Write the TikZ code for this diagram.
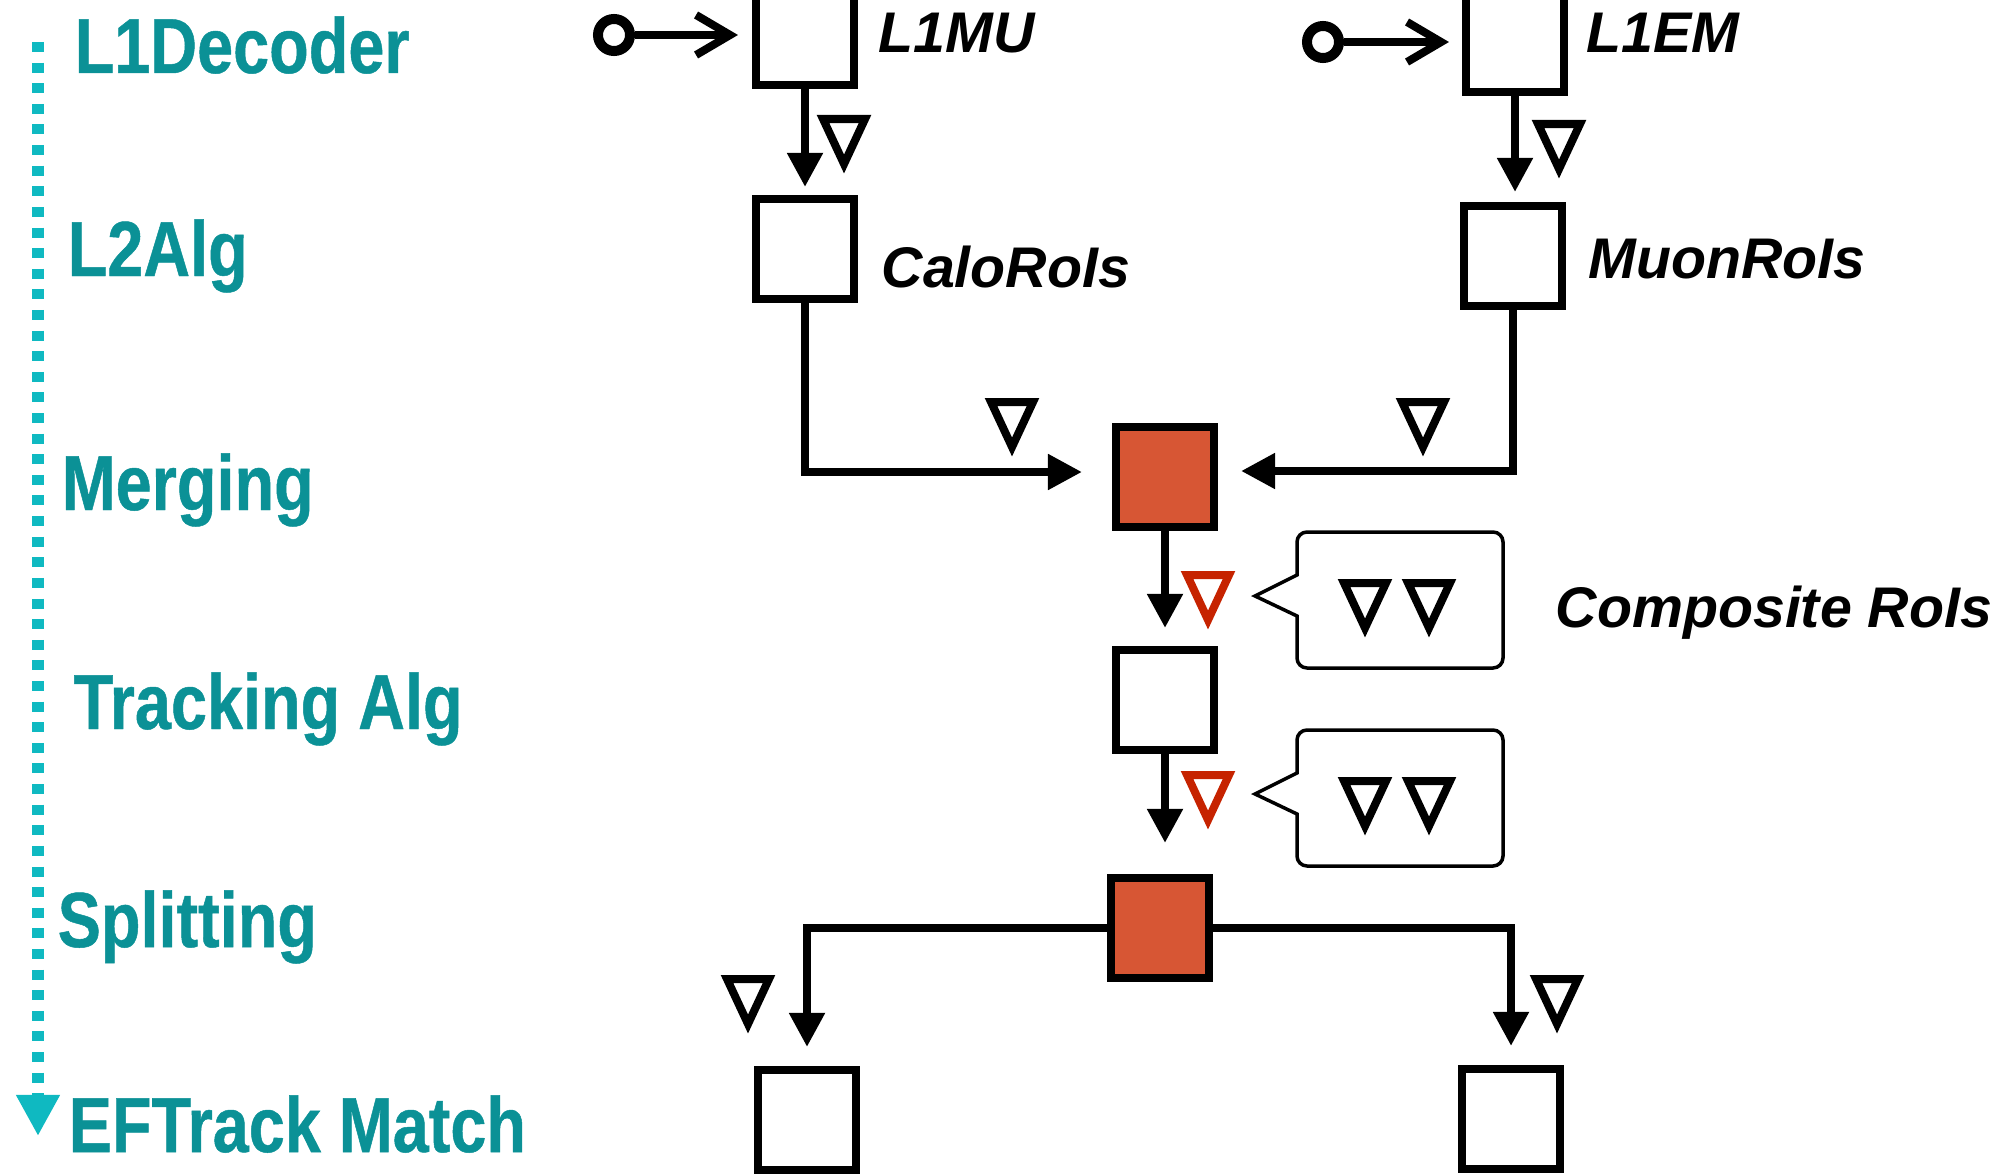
\documentclass[tikz,border=0pt]{standalone}
\usepackage{fontspec}
\setmainfont{Liberation Sans}
\newfontfamily\stagefont[FakeStretch=0.83, FakeBold=0.6]{Liberation Sans}
\usepackage{tikz}
\usetikzlibrary{arrows.meta}
\definecolor{stageteal}{HTML}{0B9196}
\definecolor{axiscyan}{HTML}{0FB9C1}
\definecolor{hotfill}{HTML}{D75634}
\definecolor{roired}{HTML}{C62300}

\begin{document}
\begin{tikzpicture}[x=0.01cm, y=-0.01cm,
  alg/.style={draw, line width=0.08cm, minimum width=0.98cm, minimum height=1.0cm, inner sep=0pt, fill=white},
  hot/.style={alg, fill=hotfill},
  port/.style={circle, draw, line width=0.1cm, minimum size=0.32cm, inner sep=0pt},
  flow/.style={line width=0.08cm, -{Triangle[length=0.34cm, width=0.34cm]}},
  inlet/.style={line width=0.08cm, -{Straight Barb[length=0.34cm, width=0.4cm]}},
  stageaxis/.style={axiscyan, line width=0.11cm, dash pattern=on 0.1cm off 0.106cm, -{Triangle[length=0.41cm, width=0.41cm]}},
  stage/.style={anchor=base west, inner sep=0pt, text=stageteal, font=\stagefont\bfseries\fontsize{22.2}{26}\selectfont},
  tag/.style={anchor=base west, inner sep=0pt, font=\bfseries\itshape\fontsize{16.3}{19}\selectfont},
  roi/.pic={\draw[line width=0.08cm, line join=miter, pic actions] (-21,-25) -- (21,-25) -- (0,20) -- cycle;},
  roibubble/.pic={
    \draw[line width=0.035cm] (0,28) [rounded corners=0.1cm] -- (0,0) -- (206,0) -- (206,136) -- (0,136) -- (0,98)
      [sharp corners] -- (0,84) -- (-42,64) -- (0,43) -- cycle;
    \pic at (68,76) {roi};
    \pic at (132,76) {roi};
  }]
\useasboundingbox (0,0) rectangle (2001,1173);

% stages
\draw[stageaxis] (38,42) -- (38,1136);
\node[stage] (l1dec) at (74,73) {L1Decoder};
\node[stage] (l2alg) at (67,276) {L2Alg};
\node[stage] (merging) at (61,510) {Merging};
\node[stage] (tracking) at (73,729) {Tracking Alg};
\node[stage] (splitting) at (57,947) {Splitting};
\node[stage] (eftrack) at (68,1152) {EFTrack Match};

% algorithms
\node[alg] (l1mu) at (805,35) {};
\node[alg] (l1em) at (1515,42) {};
\node[alg] (calo) at (805,249) {};
\node[alg] (muon) at (1513,256) {};
\node[hot] (merge) at (1165,477) {};
\node[alg] (track) at (1165,700) {};
\node[hot] (split) at (1160,928) {};
\node[alg] (efl) at (807,1120) {};
\node[alg] (efr) at (1511,1119) {};

\node[tag] (l1mutag) at (878,53) {L1MU};
\node[tag] (l1emtag) at (1586,53) {L1EM};
\node[tag] (calotag) at (881,287) {CaloRoIs};
\node[tag] (muontag) at (1588,278) {MuonRoIs};
\node[tag] (comptag) at (1555,627) {Composite RoIs};

% inputs
\node[port] (muin) at (614,35) {};
\node[port] (emin) at (1323,42) {};
\draw[inlet, shorten >=0.14cm] (muin) -- (l1mu);
\draw[inlet, shorten >=0.13cm] (emin) -- (l1em);

% data flow
\draw[flow, shorten >=0.08cm] (l1mu) -- (calo);
\draw[flow, shorten >=0.1cm] (l1em.south) -- (l1em.south |- muon.north);
\draw[flow, shorten >=0.3cm] (calo.south) |- ([yshift=0.05cm]merge.west);
\draw[flow, shorten >=0.23cm] (muon.south) |- ([yshift=0.06cm]merge.east);
\draw[flow, shorten >=0.18cm] (merge) -- (track);
\draw[flow, shorten >=0.31cm] (track.south) -- (track.south |- split.north);
\draw[flow, shorten >=0.19cm] (split.west) -| (efl.north);
\draw[flow, shorten >=0.19cm] (split.east) -| (efr.north);

% RoIs
\pic at (844,144) {roi};
\pic at (1559,149) {roi};
\pic at (1012,427) {roi};
\pic at (1423,427) {roi};
\pic[color=roired] at (1208,600) {roi};
\pic[color=roired] at (1208,800) {roi};
\pic at (748,1004) {roi};
\pic at (1557,1004) {roi};
\pic at (1297,532) {roibubble};
\pic at (1297,730) {roibubble};
\end{tikzpicture}
\end{document}
